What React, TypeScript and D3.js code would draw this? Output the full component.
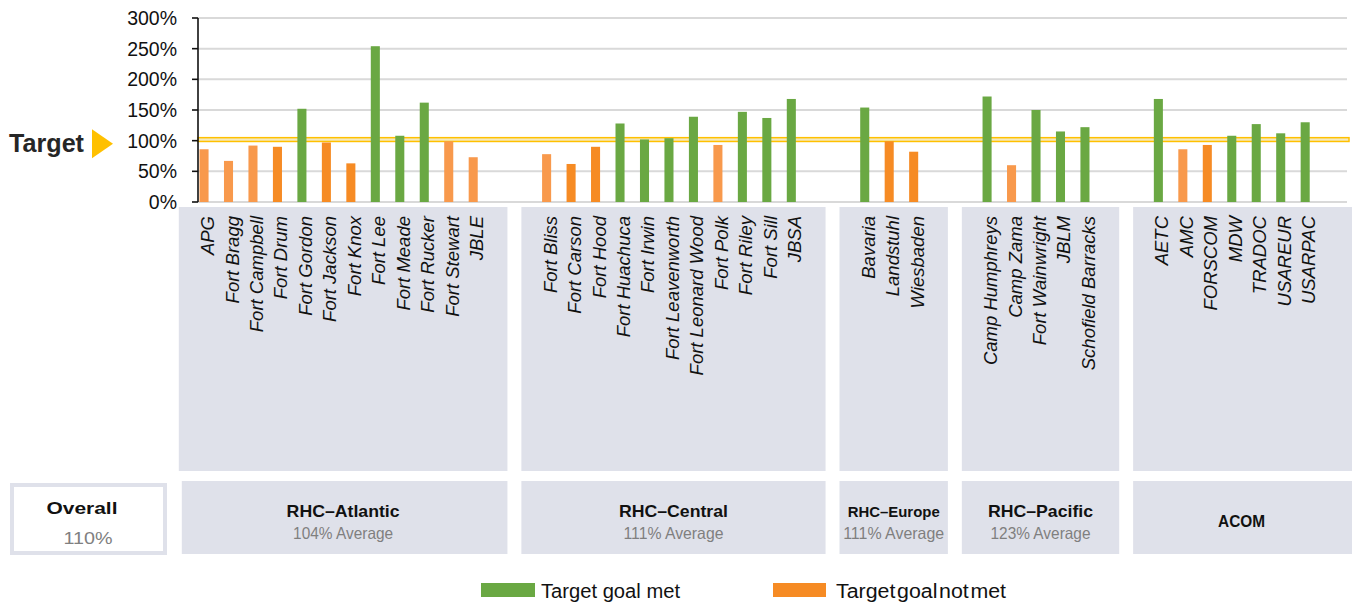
import React from 'react';
import * as d3 from 'd3';

// Regionen und Standorte
const groupNames = ['RHC–Atlantic', 'RHC–Central', 'RHC–Europe', 'RHC–Pacific', 'ACOM'];
const groupAverages = ['104% Average', '111% Average', '111% Average', '123% Average', ''];

const atlanticSites = ['APG', 'Fort Bragg', 'Fort Campbell', 'Fort Drum', 'Fort Gordon', 'Fort Jackson', 'Fort Knox', 'Fort Lee', 'Fort Meade', 'Fort Rucker', 'Fort Stewart', 'JBLE'];
const atlanticValues = [0.86, 0.67, 0.92, 0.90, 1.52, 0.97, 0.63, 2.54, 1.08, 1.62, 0.99, 0.73];

const centralSites = ['Fort Bliss', 'Fort Carson', 'Fort Hood', 'Fort Huachuca', 'Fort Irwin', 'Fort Leavenworth', 'Fort Leonard Wood', 'Fort Polk', 'Fort Riley', 'Fort Sill', 'JBSA'];
const centralValues = [0.78, 0.62, 0.90, 1.28, 1.02, 1.04, 1.39, 0.93, 1.47, 1.37, 1.68];

const europeSites = ['Bavaria', 'Landstuhl', 'Wiesbaden'];
const europeValues = [1.54, 0.99, 0.82];

const pacificSites = ['Camp Humphreys', 'Camp Zama', 'Fort Wainwright', 'JBLM', 'Schofield Barracks'];
const pacificValues = [1.72, 0.60, 1.50, 1.15, 1.22];

const acomSites = ['AETC', 'AMC', 'FORSCOM', 'MDW', 'TRADOC', 'USAREUR', 'USARPAC'];
const acomValues = [1.68, 0.86, 0.93, 1.08, 1.27, 1.12, 1.30];

const overallLabel = 'Overall';
const overallValue = '110%';
const targetValue = 1.0;
const legendLabels = ['Target goal met', 'Target goal not met'];

// hellere Orange-Töne im Original
const lightOrange = new Set(['APG', 'Fort Bragg', 'Fort Campbell', 'Fort Stewart', 'JBLE', 'Fort Bliss', 'Fort Polk', 'Camp Zama', 'AMC']);

const GREEN = '#6aa843';
const ORANGE = '#f68b24';
const ORANGE_LIGHT = '#f8994c';
const PANEL = '#dfe1ea';

const groupSites = [atlanticSites, centralSites, europeSites, pacificSites, acomSites];
const groupValues = [atlanticValues, centralValues, europeValues, pacificValues, acomValues];

const App: React.FC = () => {
    const width = 1352;
    const height = 605;

    // Slots inkl. 2 Leerplätze zwischen den Gruppen
    const slots: string[] = [];
    groupSites.forEach((sites, gi) => {
        sites.forEach(s => slots.push(s));
        if (gi < groupSites.length - 1) {
            slots.push(`gap-${gi}-a`);
            slots.push(`gap-${gi}-b`);
        }
    });

    const x = d3.scaleBand<string>()
        .domain(slots)
        .range([191.8, 191.8 + slots.length * 24.47])
        .paddingInner(0.63)
        .paddingOuter(0.315);

    const y = d3.scaleLinear().domain([0, 3]).range([202, 18]);
    const ticks = y.ticks(6);
    const fmt = d3.format('.0%');
    const center = (s: string) => (x(s) ?? 0) + x.bandwidth() / 2;

    const axisX = 198;
    const gridRight = 1347;

    const bars = groupSites.flatMap((sites, gi) => sites.map((s, i) => ({site: s, value: groupValues[gi][i]})));

    const panels = groupSites.map((sites, gi) => {
        const left = center(sites[0]) - x.step() / 2 - 13;
        const right = gi === groupSites.length - 1 ? width : center(sites[sites.length - 1]) + x.step() / 2 + 22;
        return {left, right, name: groupNames[gi], avg: groupAverages[gi]};
    });

    const nameWidths: Record<string, number> = {'RHC–Atlantic': 113, 'RHC–Central': 109, 'RHC–Europe': 92, 'RHC–Pacific': 105, 'ACOM': 47};

    return (
        <svg width={width} height={height} style={{position: 'absolute', left: 0, top: 0, fontFamily: 'Liberation Sans, Arial, sans-serif'}}>
            <rect width={width} height={height} fill="#fff"/>

            {/* Gitterlinien */}
            {ticks.map(t => (
                <line key={t} x1={axisX} x2={gridRight} y1={y(t)} y2={y(t)} stroke="#d9d9d9" strokeWidth={2}/>
            ))}

            {/* Zielband */}
            <rect x={axisX} y={y(targetValue) - 3} width={1349 - axisX} height={3.8} fill="#f3e9c0" stroke="#ffc000" strokeWidth={1.5}/>

            {/* Balken */}
            {bars.map(b => (
                <rect key={b.site}
                      x={x(b.site)}
                      y={y(b.value)}
                      width={x.bandwidth()}
                      height={y(0) - y(b.value)}
                      fill={b.value >= targetValue ? GREEN : lightOrange.has(b.site) ? ORANGE_LIGHT : ORANGE}/>
            ))}

            {/* Y-Achse */}
            <line x1={axisX} x2={axisX} y1={y(3)} y2={y(0)} stroke="#111" strokeWidth={1.6}/>
            {ticks.map(t => (
                <g key={'t' + t}>
                    <line x1={axisX - 6} x2={axisX} y1={y(t)} y2={y(t)} stroke="#111" strokeWidth={1.6}/>
                    <text x={177} y={y(t)} dy="0.36em" textAnchor="end" fontSize={19.5} fill="#111">{fmt(t)}</text>
                </g>
            ))}

            {/* Target-Marker */}
            <text x={9} y={152} fontSize={25} fontWeight="bold" fill="#262626" textLength={75} lengthAdjust="spacingAndGlyphs">Target</text>
            <path d="M92,129.3 L113,143.8 L92,158.3 Z" fill="#ffc000"/>

            {/* obere Panels mit Standortnamen */}
            {panels.map(p => (
                <rect key={'up' + p.name} x={p.left} y={207} width={p.right - p.left} height={264} fill={PANEL}/>
            ))}
            {bars.map(b => (
                <text key={'l' + b.site}
                      transform={`translate(${center(b.site) + 10},216) rotate(-90)`}
                      textAnchor="end"
                      fontSize={18.5}
                      fontStyle="italic"
                      fill="#111">{b.site}</text>
            ))}

            {/* untere Panels */}
            <rect x={12} y={485} width={153} height={68} fill="#fff" stroke={PANEL} strokeWidth={4}/>
            <text x={82} y={514} textAnchor="middle" fontSize={17} fontWeight="bold" fill="#111" textLength={71} lengthAdjust="spacingAndGlyphs">{overallLabel}</text>
            <text x={88} y={544} textAnchor="middle" fontSize={17} fill="#808080" textLength={49} lengthAdjust="spacingAndGlyphs">{overallValue}</text>

            {panels.map((p, i) => {
                const cx = i === panels.length - 1 ? (p.left + 1352) / 2 - 1 : (p.left + p.right) / 2;
                const lx = i === 0 ? p.left + 3 : p.left;
                return (
                    <g key={'low' + p.name}>
                        <rect x={lx} y={481} width={p.right - lx} height={73} fill={PANEL}/>
                        {p.avg ? (
                            <>
                                <text x={cx} y={517} textAnchor="middle" fontSize={i === 2 ? 14 : 16.5} fontWeight="bold" fill="#111"
                                      textLength={nameWidths[p.name]} lengthAdjust="spacingAndGlyphs">{p.name}</text>
                                <text x={cx} y={539} textAnchor="middle" fontSize={16.5} fill="#7f7f7f"
                                      textLength={i === 2 ? 101 : 100} lengthAdjust="spacingAndGlyphs">{p.avg}</text>
                            </>
                        ) : (
                            <text x={cx} y={527} textAnchor="middle" fontSize={16.5} fontWeight="bold" fill="#111"
                                  textLength={nameWidths[p.name]} lengthAdjust="spacingAndGlyphs">{p.name}</text>
                        )}
                    </g>
                );
            })}

            {/* Legende */}
            <rect x={481} y={583} width={54} height={14} fill={GREEN}/>
            <text x={541} y={598} fontSize={20} fill="#111" textLength={139} lengthAdjust="spacingAndGlyphs">{legendLabels[0]}</text>
            <rect x={773} y={583} width={53} height={14} fill={ORANGE}/>
            <text x={836} y={598} fontSize={20} fill="#111" textLength={170} lengthAdjust="spacingAndGlyphs" wordSpacing={-4}>{legendLabels[1]}</text>
        </svg>
    );
};

export default App;
